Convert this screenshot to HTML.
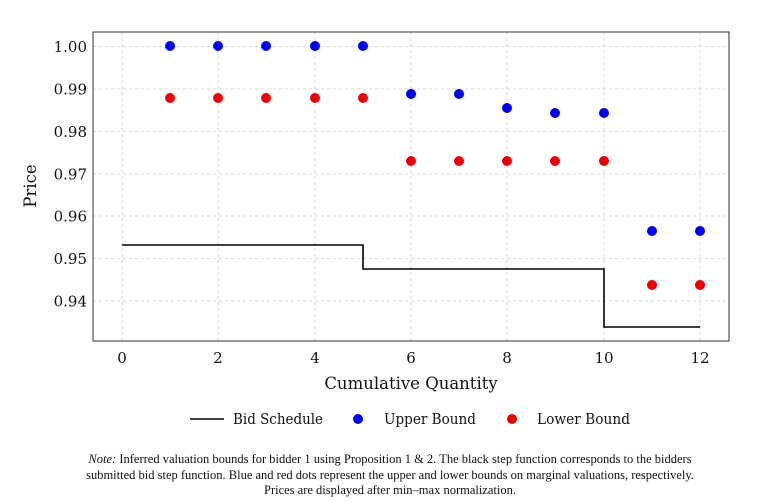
<!DOCTYPE html>
<html><head><meta charset="utf-8"><style>
body{margin:0;background:#fff;width:780px;height:502px;overflow:hidden}
svg text{font-family:"DejaVu Serif","Liberation Serif",serif;fill:#111}
.n{font-family:"Liberation Serif",serif;font-size:12.5px;text-align:center;position:absolute;left:0;width:780px;top:452px;line-height:15.5px;color:#111}
</style></head><body>
<svg width="780" height="502" style="position:absolute;left:0;top:0">
<g stroke="#ccc" stroke-dasharray="3,3" stroke-width="0.8">
<line x1="122" y1="32" x2="122" y2="341"/><line x1="218" y1="32" x2="218" y2="341"/><line x1="315" y1="32" x2="315" y2="341"/><line x1="411" y1="32" x2="411" y2="341"/><line x1="507" y1="32" x2="507" y2="341"/><line x1="604" y1="32" x2="604" y2="341"/><line x1="700" y1="32" x2="700" y2="341"/>
<line x1="93" y1="46.5" x2="729" y2="46.5"/><line x1="93" y1="89" x2="729" y2="89"/><line x1="93" y1="131.5" x2="729" y2="131.5"/><line x1="93" y1="174" x2="729" y2="174"/><line x1="93" y1="216" x2="729" y2="216"/><line x1="93" y1="258.5" x2="729" y2="258.5"/><line x1="93" y1="301" x2="729" y2="301"/>
</g>
<rect x="93" y="32" width="636" height="309" fill="none" stroke="#333" stroke-width="1"/>
<polyline points="122,245 363,245 363,269 604,269 604,327 700,327" fill="none" stroke="#000" stroke-width="1.6"/>
<g fill="#0000ee">
<circle cx="170" cy="46" r="5"/><circle cx="218" cy="46" r="5"/><circle cx="266" cy="46" r="5"/><circle cx="315" cy="46" r="5"/><circle cx="363" cy="46" r="5"/>
<circle cx="411" cy="94" r="5"/><circle cx="459" cy="94" r="5"/><circle cx="507" cy="108" r="5"/><circle cx="555" cy="113" r="5"/><circle cx="604" cy="113" r="5"/>
<circle cx="652" cy="231" r="5"/><circle cx="700" cy="231" r="5"/></g>
<g fill="#ee0000">
<circle cx="170" cy="98" r="5"/><circle cx="218" cy="98" r="5"/><circle cx="266" cy="98" r="5"/><circle cx="315" cy="98" r="5"/><circle cx="363" cy="98" r="5"/>
<circle cx="411" cy="161" r="5"/><circle cx="459" cy="161" r="5"/><circle cx="507" cy="161" r="5"/><circle cx="555" cy="161" r="5"/><circle cx="604" cy="161" r="5"/>
<circle cx="652" cy="285" r="5"/><circle cx="700" cy="285" r="5"/></g>
<g font-size="15" text-anchor="end">
<text x="87" y="52">1.00</text><text x="87" y="94.5">0.99</text><text x="87" y="137">0.98</text><text x="87" y="179.5">0.97</text><text x="87" y="221.5">0.96</text><text x="87" y="264">0.95</text><text x="87" y="306.5">0.94</text></g>
<g font-size="15" text-anchor="middle">
<text x="122" y="363">0</text><text x="218" y="363">2</text><text x="315" y="363">4</text><text x="411" y="363">6</text><text x="507" y="363">8</text><text x="604" y="363">10</text><text x="700" y="363">12</text>
<text x="411" y="389" font-size="16.5">Cumulative Quantity</text>
<text transform="translate(36,186) rotate(-90)" font-size="16.5">Price</text></g>
<line x1="190" y1="419" x2="224" y2="419" stroke="#000" stroke-width="1.6"/>
<text x="233" y="424" font-size="14.5" textLength="90" lengthAdjust="spacingAndGlyphs">Bid Schedule</text>
<circle cx="358" cy="419" r="5" fill="#0000ee"/>
<text x="384" y="424" font-size="14.5" textLength="92" lengthAdjust="spacingAndGlyphs">Upper Bound</text>
<circle cx="512" cy="419" r="5" fill="#ee0000"/>
<text x="537" y="424" font-size="14.5" textLength="93" lengthAdjust="spacingAndGlyphs">Lower Bound</text>
</svg>
<div class="n"><i>Note:</i> Inferred valuation bounds for bidder 1 using Proposition 1 &amp; 2. The black step function corresponds to the bidders<br>submitted bid step function. Blue and red dots represent the upper and lower bounds on marginal valuations, respectively.<br>Prices are displayed after min–max normalization.</div>
</body></html>
